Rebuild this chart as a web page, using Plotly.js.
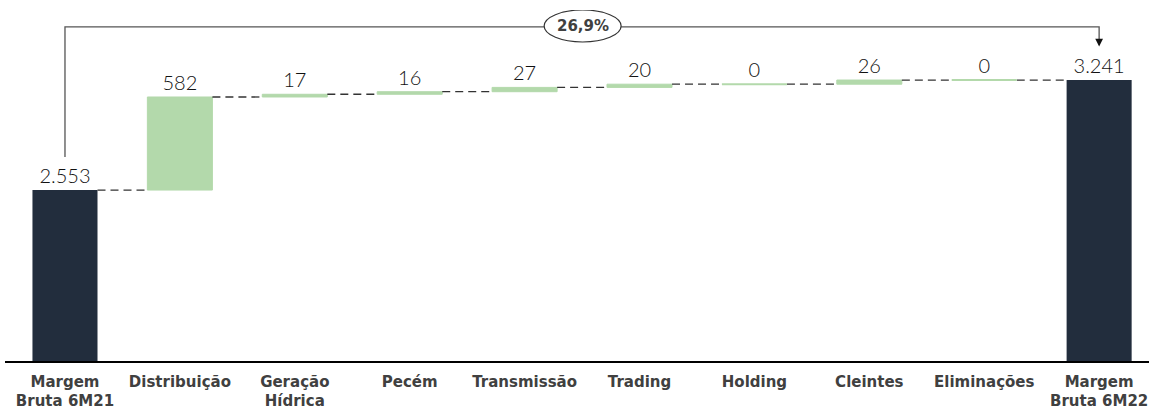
<!DOCTYPE html>
<html><head><meta charset="utf-8">
<script src="https://cdn.plot.ly/plotly-3.0.1.min.js"></script>
<style>body{margin:0;background:#fff}#chart{width:1149px;height:410px}</style>
</head><body><div id="chart"></div>
<script>
const categories = ["Margem<br>Bruta 6M21","Distribuição","Geração<br>Hídrica","Pecém","Transmissão","Trading","Holding","Cleintes","Eliminações","Margem<br>Bruta 6M22"];
const values = [2553, 582, 17, 16, 27, 20, 0, 26, 0, 3241];
const measures = ["absolute","relative","relative","relative","relative","relative","relative","relative","relative","total"];
const growthLabel = "26,9%";

const W = 0.566;
function fmt(v){ return v.toString().replace(/\B(?=(\d{3})+(?!\d))/g, "."); }
const labels = values.map(fmt);
const yVals = values.map((v,i)=> measures[i]==="total" ? 0 : v);
const xs = categories.map((c,i)=>i);

// cumulative levels
const cum = [];
values.forEach((v,i)=>{
  if (measures[i]==="absolute") cum.push(v);
  else if (measures[i]==="total") cum.push(cum[i-1]);
  else cum.push(cum[i-1]+v);
});

const trace = {
  type: "waterfall",
  x: xs, y: yVals, measure: measures,
  text: labels, textposition: "outside", textinfo: "text",
  textfont: {family: "Lato, 'Open Sans', sans-serif", size: 20, color: "#111", weight: 300},
  cliponaxis: false,
  width: W,
  increasing: {marker: {color: "#b3d9ab", line: {color: "#b3d9ab", width: 1}}},
  decreasing: {marker: {color: "#e06666"}},
  totals: {marker: {color: "#222d3d", line: {width: 0}}},
  connector: {visible: false},
  hoverinfo: "skip"
};

// dashed connectors between bars
const cx = [], cy = [];
for (let i=0;i<values.length-1;i++){
  cx.push(i+W/2, i+1-W/2, null); cy.push(cum[i], cum[i], null);
}
const connectors = {type:"scatter", mode:"lines", x:cx, y:cy,
  line:{color:"#333", width:1.3, dash:"8px,5px"}, hoverinfo:"skip", cliponaxis:false};

// zero-valued steps drawn as thin green lines
const zx = [], zy = [];
values.forEach((v,i)=>{ if (v===0 && measures[i]==="relative"){ zx.push(i-W/2, i+W/2, null); zy.push(cum[i], cum[i], null);} });
const zeros = {type:"scatter", mode:"lines", x:zx, y:zy,
  line:{color:"#b3d9ab", width:2}, hoverinfo:"skip"};

const lblFont = "'DejaVu Sans', Verdana, sans-serif";
const layout = {
  width: 1149, height: 410,
  margin: {l: 5, r: 0, t: 10, b: 49},
  paper_bgcolor: "#fff", plot_bgcolor: "#fff",
  showlegend: false,
  font: {family: "Lato, 'Open Sans', sans-serif"},
  xaxis: {
    range: [-0.522, 9.434],
    tickmode: "array", tickvals: xs, ticktext: categories,
    tickfont: {family: lblFont, size: 15, color: "#404040", weight: "bold"},
    ticklabelstandoff: 6,
    showline: true, linecolor: "#000", linewidth: 1.5,
    showgrid: false, zeroline: false, ticks: "", fixedrange: true
  },
  yaxis: {range: [1484, 3679], visible: false, showgrid: false, zeroline: false, fixedrange: true},
  shapes: [
    {type: "path", xref: "x", yref: "y",
     path: "M 0 2760 L 0 3573 L 9 3573 L 9 3480",
     line: {color: "#555", width: 1.3}},
    {type: "circle", xref: "x", yref: "y",
     x0: 4.17, x1: 4.84, y0: 3479, y1: 3679,
     fillcolor: "#fff", line: {color: "#333", width: 1.2}}
  ],
  annotations: [
    {x: 9, y: 3450, xref: "x", yref: "y", ax: 9, ay: 3500, axref: "x", ayref: "y",
     showarrow: true, arrowhead: 2, arrowsize: 1.2, arrowwidth: 1.3, arrowcolor: "#111", text: ""},
    {x: 4.505, y: 3579, xref: "x", yref: "y", text: "<b>" + growthLabel + "</b>", showarrow: false,
     font: {family: lblFont, size: 15, color: "#404040"}}
  ]
};

Plotly.newPlot("chart", [trace, connectors, zeros], layout, {displayModeBar: false, staticPlot: true});
</script></body></html>
